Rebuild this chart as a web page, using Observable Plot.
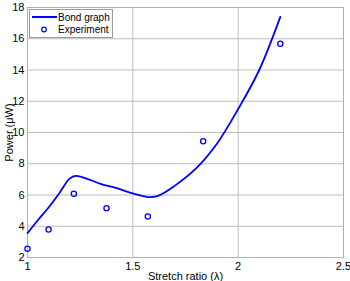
<!DOCTYPE html>
<html><head><meta charset="utf-8">
<script src="https://cdn.jsdelivr.net/npm/d3@7"></script>
<script src="https://cdn.jsdelivr.net/npm/@observablehq/plot@0.6"></script>
<style>
body{margin:0;background:#fff;font-family:"Liberation Sans",Arial,sans-serif;}
#wrap{position:relative;width:350px;height:281px;}
#legend{position:absolute;left:29px;top:9px;width:82px;height:27px;border:1px solid #999;background:#fff;color:#000;}
</style></head><body>
<div id="wrap"><div id="chart"></div>
<div id="legend">
<svg width="82" height="27" style="position:absolute;left:0;top:0;overflow:visible">
<line x1="2" x2="27" y1="7" y2="7" stroke="#0000ff" stroke-width="2"/>
<circle cx="14" cy="19.5" r="2.3" fill="none" stroke="#0000ff" stroke-width="1.2"/>
<text x="28" y="10.5" font-size="10" font-family="Liberation Sans, Arial, sans-serif">Bond graph</text>
<text x="28" y="23" font-size="10" font-family="Liberation Sans, Arial, sans-serif">Experiment</text>
</svg></div></div>
<script>
const modelX = [1.0, 1.05, 1.1, 1.15, 1.2, 1.23, 1.28, 1.35, 1.42, 1.5, 1.57, 1.62, 1.7, 1.8, 1.9, 2.0, 2.1, 2.2];
const modelY = [3.56, 4.4, 5.2, 6.1, 7.05, 7.22, 7.05, 6.7, 6.45, 6.1, 5.87, 5.95, 6.6, 7.7, 9.3, 11.5, 14.0, 17.4];
const expX = [1.0, 1.10, 1.22, 1.375, 1.571, 1.834, 2.20];
const expY = [2.56, 3.79, 6.08, 5.16, 4.62, 9.44, 15.68];
const xTicks = [1, 1.5, 2, 2.5];
const yTicks = [2, 4, 6, 8, 10, 12, 14, 16, 18];

const model = modelX.map((x, i) => ({x, y: modelY[i]}));
const exp = expX.map((x, i) => ({x, y: expY[i]}));

const chart = Plot.plot({
  width: 350, height: 281,
  marginLeft: 27, marginRight: 7, marginTop: 7, marginBottom: 24,
  style: {fontFamily: "Liberation Sans, Arial, sans-serif", fontSize: "11px", color: "#000", background: "#fff"},
  x: {domain: [1, 2.5], ticks: xTicks, tickFormat: d => String(d), tickSize: 0, tickPadding: 4, label: null},
  y: {domain: [2, 18], ticks: yTicks, tickFormat: d => String(d), tickSize: 0, tickPadding: 3, label: null},
  marks: [
    Plot.ruleX(xTicks, {stroke: "#bdbdbd", strokeWidth: 1}),
    Plot.ruleY(yTicks, {stroke: "#bdbdbd", strokeWidth: 1}),
    Plot.frame({stroke: "#b0b0b0"}),
    Plot.line(model, {x: "x", y: "y", stroke: "#0000ff", strokeWidth: 1.8, curve: "catmull-rom"}),
    Plot.dot(exp, {x: "x", y: "y", r: 2.6, stroke: "#0000ff", strokeWidth: 1.3, fill: "none"}),
    Plot.axisX({ticks: xTicks, tickFormat: d => String(d), tickSize: 0, tickPadding: 5, label: "Stretch ratio (λ)", labelAnchor: "center", labelOffset: 22, labelArrow: "none"}),
    Plot.axisY({ticks: yTicks, tickFormat: d => String(d), tickSize: 0, tickPadding: 3, label: "Power (μW)", labelAnchor: "center", labelOffset: 22, labelArrow: "none"})
  ]
});
document.getElementById("chart").appendChild(chart);
</script></body></html>
